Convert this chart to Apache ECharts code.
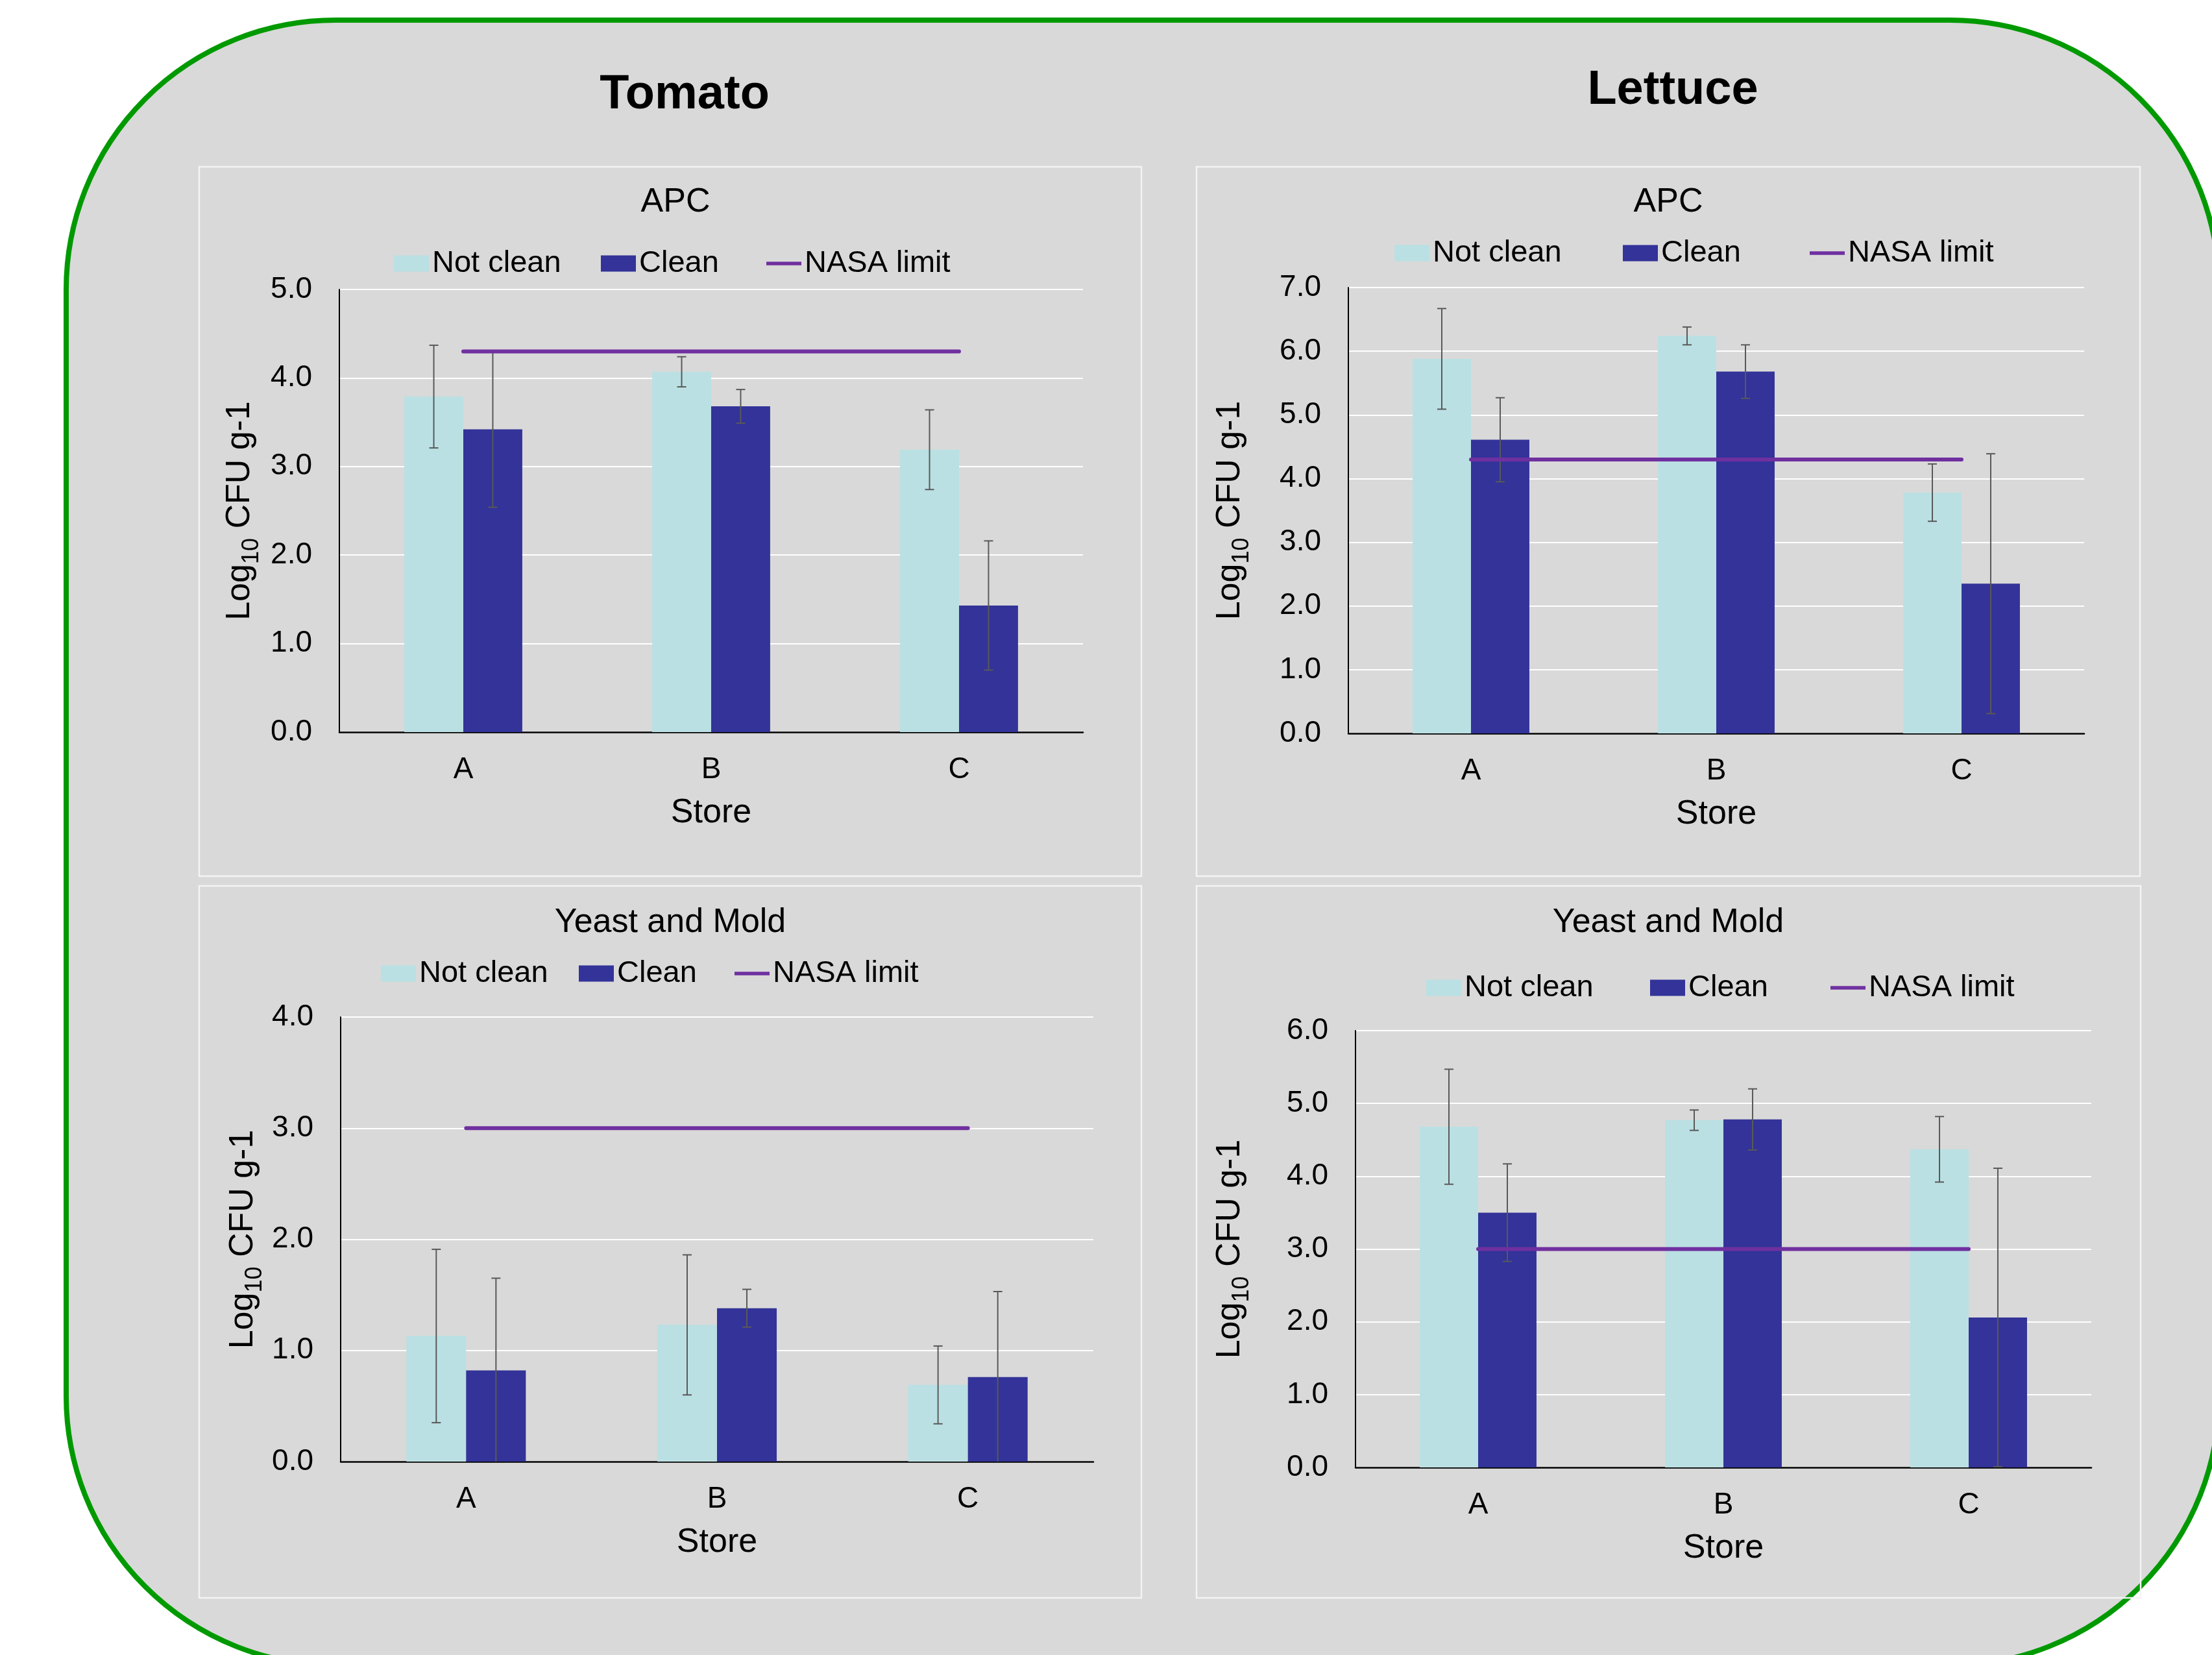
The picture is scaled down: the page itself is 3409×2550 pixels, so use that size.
<!DOCTYPE html>
<html>
<head>
<meta charset="utf-8">
<script src="https://cdn.jsdelivr.net/npm/echarts@6/dist/echarts.min.js"></script>
<style>
  html, body { margin: 0; padding: 0; background: #ffffff; }
  #chart { width: 3409px; height: 2550px; }
</style>
</head>
<body>
<div id="chart"></div>
<script>
// ---------------- DATA ----------------
const stores = ['A', 'B', 'C'];
const legendNames = ['Not clean', 'Clean', 'NASA limit'];

// Tomato - APC
const tomatoApcNotClean    = [3.79, 4.07, 3.19];
const tomatoApcNotCleanErr = [0.58, 0.17, 0.45];
const tomatoApcClean       = [3.42, 3.68, 1.43];
const tomatoApcCleanErr    = [0.88, 0.19, 0.73];
const tomatoApcLimit       = [4.3, 4.3, 4.3];

// Lettuce - APC
const lettuceApcNotClean    = [5.88, 6.24, 3.78];
const lettuceApcNotCleanErr = [0.79, 0.14, 0.45];
const lettuceApcClean       = [4.61, 5.68, 2.35];
const lettuceApcCleanErr    = [0.66, 0.42, 2.04];
const lettuceApcLimit       = [4.3, 4.3, 4.3];

// Tomato - Yeast and Mold
const tomatoYmNotClean    = [1.13, 1.23, 0.69];
const tomatoYmNotCleanErr = [0.78, 0.63, 0.35];
const tomatoYmClean       = [0.82, 1.38, 0.76];
const tomatoYmCleanErr    = [0.83, 0.17, 0.77];
const tomatoYmLimit       = [3.0, 3.0, 3.0];

// Lettuce - Yeast and Mold
const lettuceYmNotClean    = [4.68, 4.77, 4.37];
const lettuceYmNotCleanErr = [0.79, 0.14, 0.45];
const lettuceYmClean       = [3.50, 4.78, 2.06];
const lettuceYmCleanErr    = [0.67, 0.42, 2.05];
const lettuceYmLimit       = [3.0, 3.0, 3.0];

// y-axis maxima
const yMax = [5, 7, 4, 6];

// ---------------- STYLE / LAYOUT ----------------
const FONT = 'Liberation Sans, Arial, Helvetica, sans-serif';
const C_NOT = '#bae0e3';
const C_CLEAN = '#333399';
const C_LIMIT = '#7030a0';
const C_ERR = '#595959';
const BAR_FRAC = 0.238;

const panels = [
  { title: 'APC', tx: 1041, ty: 312,
    grid: { left: 523, top: 446, width: 1146, height: 682 },
    legendY: 406, legendX: [607, 926, 1181], nameGap: 117,
    nc: tomatoApcNotClean, ncE: tomatoApcNotCleanErr, cl: tomatoApcClean, clE: tomatoApcCleanErr, lim: tomatoApcLimit },
  { title: 'APC', tx: 2571, ty: 312,
    grid: { left: 2078, top: 443, width: 1134, height: 687 },
    legendY: 390, legendX: [2149, 2501, 2789], nameGap: 146,
    nc: lettuceApcNotClean, ncE: lettuceApcNotCleanErr, cl: lettuceApcClean, clE: lettuceApcCleanErr, lim: lettuceApcLimit },
  { title: 'Yeast and Mold', tx: 1033, ty: 1422,
    grid: { left: 525, top: 1567, width: 1160, height: 685 },
    legendY: 1500, legendX: [587, 892, 1132], nameGap: 114,
    nc: tomatoYmNotClean, ncE: tomatoYmNotCleanErr, cl: tomatoYmClean, clE: tomatoYmCleanErr, lim: tomatoYmLimit },
  { title: 'Yeast and Mold', tx: 2571, ty: 1422,
    grid: { left: 2089, top: 1588, width: 1134, height: 673 },
    legendY: 1522, legendX: [2198, 2543, 2821], nameGap: 157,
    nc: lettuceYmNotClean, ncE: lettuceYmNotCleanErr, cl: lettuceYmClean, clE: lettuceYmCleanErr, lim: lettuceYmLimit }
];

const panelBoxes = [
  { x: 307, y: 257, w: 1452, h: 1093 },
  { x: 1844, y: 257, w: 1454, h: 1093 },
  { x: 307, y: 1365, w: 1452, h: 1097 },
  { x: 1844, y: 1365, w: 1455, h: 1097 }
];

function errRenderer(sign) {
  return function (params, api) {
    const cat = api.value(0), v = api.value(1), e = api.value(2);
    const band = api.size([1, 0])[0];
    const dx = sign * band * BAR_FRAC / 2;
    const top = api.coord([cat, v + e]);
    const low = v - e;
    const bot = api.coord([cat, Math.max(0, low)]);
    const x = top[0] + dx;
    const cap = 7;
    const st = { stroke: C_ERR, lineWidth: 2 };
    const children = [
      { type: 'line', shape: { x1: x, y1: top[1], x2: x, y2: bot[1] }, style: st },
      { type: 'line', shape: { x1: x - cap, y1: top[1], x2: x + cap, y2: top[1] }, style: st }
    ];
    if (low >= 0) {
      children.push({ type: 'line', shape: { x1: x - cap, y1: bot[1], x2: x + cap, y2: bot[1] }, style: st });
    }
    return { type: 'group', children: children };
  };
}

const grids = [], xAxes = [], yAxes = [], series = [], legends = [], graphics = [];

// background rounded frame
graphics.push({
  type: 'rect', z: -100, silent: true,
  shape: { x: 102, y: 31, width: 3318, height: 2535, r: 415 },
  style: { fill: '#d9d9d9', stroke: '#009a00', lineWidth: 8 }
});
panelBoxes.forEach(b => graphics.push({
  type: 'rect', z: -90, silent: true,
  shape: { x: b.x, y: b.y, width: b.w, height: b.h },
  style: { fill: 'none', stroke: '#f4f4f4', lineWidth: 2.5 }
}));
// main titles
graphics.push({ type: 'text', x: 1055, y: 147, z: 10,
  style: { text: 'Tomato', font: 'bold 74px ' + FONT, fill: '#000', align: 'center', verticalAlign: 'middle' } });
graphics.push({ type: 'text', x: 2578, y: 140, z: 10,
  style: { text: 'Lettuce', font: 'bold 74px ' + FONT, fill: '#000', align: 'center', verticalAlign: 'middle' } });

panels.forEach((p, i) => {
  graphics.push({ type: 'text', x: p.tx, y: p.ty, z: 10,
    style: { text: p.title, font: '52px ' + FONT, fill: '#000', align: 'center', verticalAlign: 'middle' } });

  grids.push(Object.assign({ containLabel: false }, p.grid));
  xAxes.push({
    type: 'category', gridIndex: i, data: stores,
    name: 'Store', nameLocation: 'middle', nameGap: 99,
    nameTextStyle: { fontSize: 52, color: '#000', fontFamily: FONT },
    axisLine: { show: true, lineStyle: { color: '#000', width: 2.5 } },
    axisTick: { show: false },
    axisLabel: { fontSize: 46, color: '#000', fontFamily: FONT, margin: 35 },
    splitLine: { show: false }
  });
  yAxes.push({
    type: 'value', gridIndex: i, min: 0, max: yMax[i], interval: 1,
    name: '{a|Log}{s|10}{a| CFU g-1}', nameLocation: 'middle', nameGap: p.nameGap,
    nameTextStyle: {
      color: '#000', fontFamily: FONT,
      rich: {
        a: { fontSize: 52, lineHeight: 72, color: '#000', fontFamily: FONT },
        s: { fontSize: 36, lineHeight: 36, verticalAlign: 'bottom', color: '#000', fontFamily: FONT }
      }
    },
    axisLine: { show: true, lineStyle: { color: '#000', width: 2 } },
    axisTick: { show: false },
    axisLabel: { fontSize: 46, color: '#000', fontFamily: FONT, margin: 42, formatter: v => v.toFixed(1) },
    splitLine: { show: true, lineStyle: { color: '#ffffff', width: 2 } }
  });

  series.push({
    name: 'Not clean', type: 'bar', xAxisIndex: i, yAxisIndex: i,
    data: p.nc, barWidth: (BAR_FRAC * 100) + '%', barGap: '0%',
    itemStyle: { color: C_NOT }, z: 2
  });
  series.push({
    name: 'Clean', type: 'bar', xAxisIndex: i, yAxisIndex: i,
    data: p.cl, barWidth: (BAR_FRAC * 100) + '%', barGap: '0%',
    itemStyle: { color: C_CLEAN }, z: 2
  });
  series.push({
    type: 'custom', xAxisIndex: i, yAxisIndex: i, z: 3, silent: true,
    renderItem: errRenderer(-1), encode: { x: 0, y: 1 },
    data: stores.map((s, k) => [k, p.nc[k], p.ncE[k]])
  });
  series.push({
    type: 'custom', xAxisIndex: i, yAxisIndex: i, z: 3, silent: true,
    renderItem: errRenderer(1), encode: { x: 0, y: 1 },
    data: stores.map((s, k) => [k, p.cl[k], p.clE[k]])
  });
  series.push({
    name: 'NASA limit', type: 'line', xAxisIndex: i, yAxisIndex: i, z: 4,
    data: p.lim, symbol: 'none', showSymbol: false, silent: true,
    lineStyle: { color: C_LIMIT, width: 6, cap: 'round' },
    itemStyle: { color: C_LIMIT }
  });

  legendNames.forEach((n, k) => {
    const lg = {
      data: [n], left: p.legendX[k], top: p.legendY - 25, padding: 0,
      itemWidth: 54, itemHeight: 25, itemGap: 0,
      selectedMode: false,
      textStyle: { fontSize: 47, color: '#000', fontFamily: FONT, lineHeight: 50 }
    };
    if (k < 2) {
      lg.icon = 'rect';
    } else {
      lg.icon = 'path://M0,0 L100,0 L100,10 L0,10 Z';
      lg.itemHeight = 6;
      lg.itemStyle = { color: C_LIMIT };
    }
    legends.push(lg);
  });
});

const chart = echarts.init(document.getElementById('chart'), null, { renderer: 'canvas' });
chart.setOption({
  backgroundColor: '#ffffff',
  animation: false,
  textStyle: { fontFamily: FONT },
  grid: grids, xAxis: xAxes, yAxis: yAxes,
  legend: legends, series: series, graphic: graphics
});
</script>
</body>
</html>
